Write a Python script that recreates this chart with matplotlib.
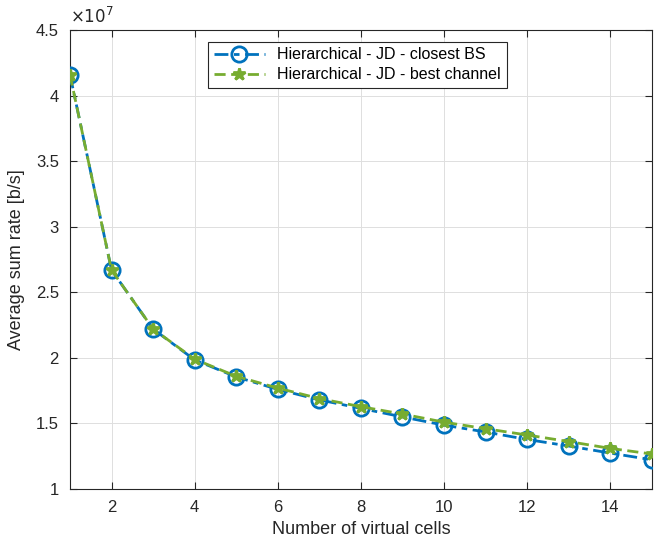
import numpy as np
import matplotlib
matplotlib.use("Agg")
import matplotlib.pyplot as plt
from matplotlib.ticker import FuncFormatter

plt.rcParams["font.family"] = ["Liberation Sans", "DejaVu Sans"]

# data (values in b/s)
cells = [1, 2, 3, 4, 5, 6, 7, 8, 9, 10, 11, 12, 13, 14, 15]
closest_bs = [4.16, 2.67, 2.22, 1.985, 1.855, 1.76, 1.68, 1.615, 1.55, 1.487,
              1.435, 1.378, 1.328, 1.274, 1.223]
best_channel = [4.16, 2.67, 2.22, 1.99, 1.86, 1.77, 1.69, 1.628, 1.572, 1.51,
                1.46, 1.412, 1.362, 1.31, 1.267]
closest_bs = [v * 1e7 for v in closest_bs]
best_channel = [v * 1e7 for v in best_channel]

label_a = "Hierarchical - JD - closest BS"
label_b = "Hierarchical - JD - best channel"

axis_col = "#262626"

fig = plt.figure(figsize=(6.57, 5.47), dpi=100)
ax = fig.add_axes([0.1065, 0.106, 0.8855, 0.839])

ax.plot(cells, closest_bs, color="#0072BD", linestyle=(0, (5, 2, 2, 2)), linewidth=2,
        marker="o", markersize=11, markerfacecolor="none",
        markeredgewidth=2, label=label_a, zorder=3)
ax.plot(cells, best_channel, color="#77AC30", linestyle=(0, (4, 2)), linewidth=2,
        marker="*", markersize=9, markeredgewidth=2, label=label_b, zorder=4)

ax.set_xlim(1, 15)
ax.set_ylim(1e7, 4.5e7)
ax.set_xticks(np.arange(2, 15, 2))
ax.set_yticks(np.arange(1e7, 4.51e7, 0.5e7))
ax.yaxis.set_major_formatter(FuncFormatter(lambda v, p: f"{v / 1e7:g}"))

ax.grid(True, color="#dedede", linewidth=0.7)
ax.set_axisbelow(True)
ax.tick_params(direction="in", top=True, right=True, labelsize=12,
               colors=axis_col, length=5, width=0.8, pad=8)
for s in ax.spines.values():
    s.set_color(axis_col)
    s.set_linewidth(0.8)

ax.text(0.0, 1.008, r"$\times10^{7}$", transform=ax.transAxes,
        fontsize=12, color=axis_col, ha="left", va="bottom")

ax.set_xlabel("Number of virtual cells", fontsize=13, color=axis_col, labelpad=4)
ax.set_ylabel("Average sum rate [b/s]", fontsize=13, color=axis_col, labelpad=8)

leg = ax.legend(loc="upper center", bbox_to_anchor=(0.494, 0.992), fontsize=11.5,
                fancybox=False, edgecolor=axis_col, framealpha=1,
                handlelength=3.2, borderpad=0.35, labelspacing=0.3)
leg.get_frame().set_linewidth(0.8)

fig.savefig("out.png", dpi=100)
